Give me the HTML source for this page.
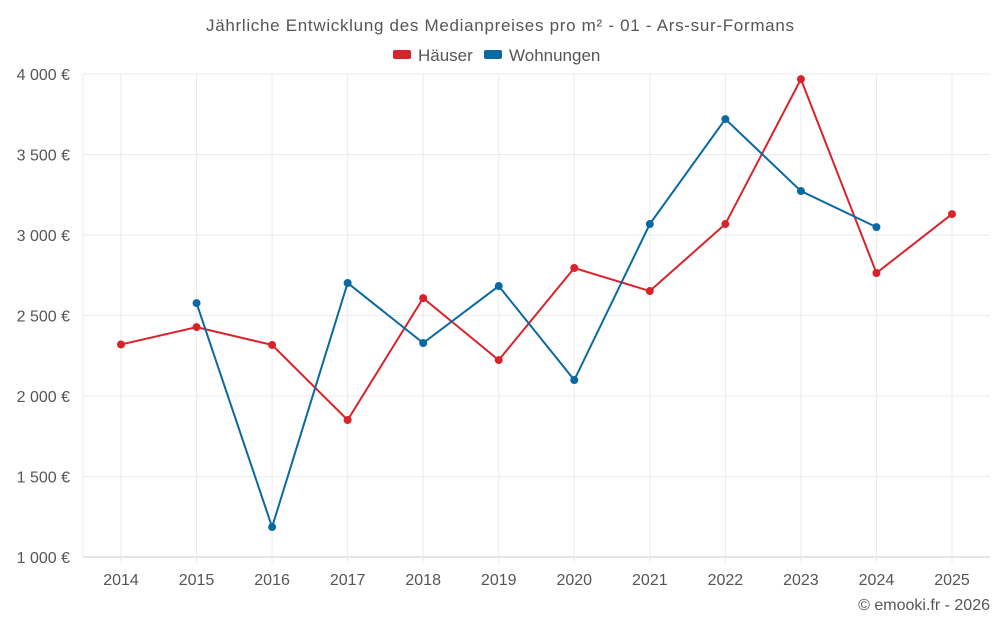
<!DOCTYPE html>
<html><head><meta charset="utf-8"><style>
body{margin:0;background:#fff;font-family:"Liberation Sans",sans-serif;}
svg text{font-family:"Liberation Sans",sans-serif;fill:#555;}
</style></head><body>
<svg id="chart" width="1000" height="625" xmlns="http://www.w3.org/2000/svg">
<text x="206" y="31" font-size="17" textLength="588" lengthAdjust="spacing">Jährliche Entwicklung des Medianpreises pro m² - 01 - Ars-sur-Formans</text>
<g>
<g><rect x="393" y="50" width="18" height="9" rx="2" fill="#d9232a"/><text x="418" y="61" font-size="17">Häuser</text></g>
<g><rect x="484" y="50" width="18" height="9" rx="2" fill="#0969a2"/><text x="509" y="61" font-size="17">Wohnungen</text></g>
</g>
<g id="grid"></g><g id="axes"></g><g id="series"></g>
<text x="990" y="610" text-anchor="end" font-size="16">© emooki.fr - 2026</text>
</svg>
<script>
const years=[2014,2015,2016,2017,2018,2019,2020,2021,2022,2023,2024,2025];
const houses=[2320,2428,2317,1851,2608,2223,2795,2652,3068,3968,2764,3130];
const apartments=[null,2577,1186,2702,2329,2683,2099,3068,3720,3273,3049,null];
const yTicks=[1000,1500,2000,2500,3000,3500,4000];
const yLabels=["1 000 €","1 500 €","2 000 €","2 500 €","3 000 €","3 500 €","4 000 €"];
const NS="http://www.w3.org/2000/svg";
const L=83,R=990,T=74,B=557;
const x=i=>121+i*(952-121)/(years.length-1);
const y=v=>B-(v-1000)/(4000-1000)*(B-T);
function mk(tag,attrs,parent){const e=document.createElementNS(NS,tag);for(const k in attrs)e.setAttribute(k,attrs[k]);document.getElementById(parent).appendChild(e);return e;}
yTicks.forEach((t,i)=>{
 const g=mk('line',{x1:L,x2:R,y1:y(t),y2:y(t),stroke:i==0?'#ccc':'#ebebeb','stroke-width':1},'grid');
 
 
 const tx=mk('text',{x:70,y:y(t)+6,'text-anchor':'end','font-size':16},'axes');
 tx.textContent=yLabels[i];
 
 
});
const lv=mk('line',{x1:L,x2:L,y1:T,y2:B,stroke:'#ebebeb'},'grid');


years.forEach((yr,i)=>{
 const g=mk('line',{x1:x(i),x2:x(i),y1:T,y2:B+6,stroke:'#ebebeb'},'grid');
 
 
 const tx=mk('text',{x:x(i),y:585,'text-anchor':'middle','font-size':16},'axes');
 tx.textContent=yr;
 
 
});
function series(vals,color,name){
 let d='';let pen=false;
 vals.forEach((v,i)=>{if(v==null){pen=false;return;}d+=(pen?'L':'M')+x(i)+' '+y(v)+' ';pen=true;});
 const p=mk('path',{d:d,fill:'none',stroke:color,'stroke-width':2},'series');
 
 
 vals.forEach((v,i)=>{if(v==null)return;
  const c=mk('circle',{cx:x(i),cy:y(v),r:4,fill:color},'series');
  
  
 });
}
series(houses,'#d9232a','haeuser');
series(apartments,'#0969a2','wohnungen');
</script>
</body></html>
